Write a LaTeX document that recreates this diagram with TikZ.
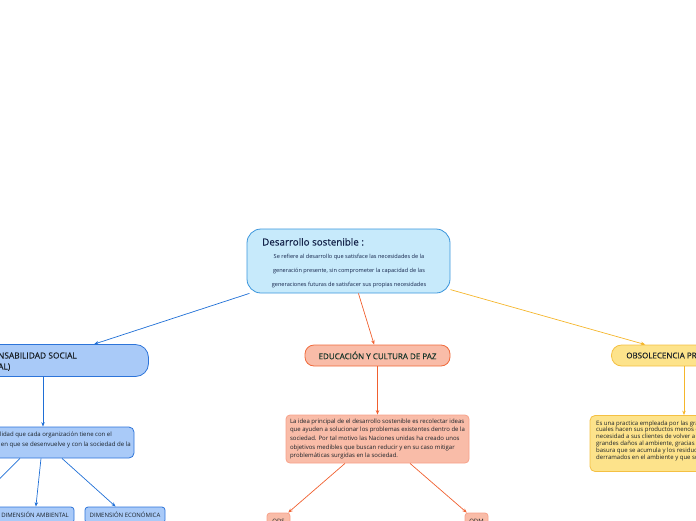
\documentclass[tikz,border=0pt]{standalone}
\usepackage{fontspec}
\setmainfont{Open Sans}
\newfontfamily\semib{Open Sans}[FakeBold=0.5]
\usetikzlibrary{arrows.meta,calc}
\definecolor{cfill}{HTML}{C7EAFB}
\definecolor{cdraw}{HTML}{3A95DC}
\definecolor{bfill}{HTML}{A9CAF8}
\definecolor{bdraw}{HTML}{2D74D9}
\definecolor{bline}{HTML}{1F6FD6}
\definecolor{ofill}{HTML}{F9BCA8}
\definecolor{odraw}{HTML}{F06A3B}
\definecolor{odraw2}{HTML}{F7A28A}
\definecolor{oline}{HTML}{F0602F}
\definecolor{yfill}{HTML}{FDE38B}
\definecolor{ydraw}{HTML}{F4C043}
\definecolor{yline}{HTML}{F5B62B}
\definecolor{titlec}{HTML}{14234A}
\definecolor{txt}{HTML}{1A2128}
\definecolor{gtxt}{HTML}{17352A}
\begin{document}
\begin{tikzpicture}[x=1pt,y=-1pt,
  nbox/.style={draw, line width=0.8pt, inner sep=0pt, text=txt},
  tip/.style={-{Stealth[length=4.5pt,width=3.5pt]}, line width=0.7pt},
  small/.style={font=\fontsize{6.0}{10}\selectfont},
  head/.style={font=\semib\fontsize{8.0}{13}\selectfont},
]
\useasboundingbox (0,0) rectangle (696,520);
\clip (0,0) rectangle (696,520);

% central
\node[nbox, fill=cfill, draw=cdraw, rounded corners=14pt, minimum width=203pt, minimum height=64pt] (central) at (348.5,261) {};
\node[anchor=base west, inner sep=0pt, font=\semib\fontsize{9.8}{10}\selectfont, text=titlec] (ctitle) at (262,245.5) {Desarrollo sostenible :};
\node[anchor=base, inner sep=0pt, align=center, font=\fontsize{5.6}{14}\selectfont, text=titlec] (cbody) at (349,286) {Se refiere al desarrollo que satisface las necesidades de la\\generación presente, sin comprometer la capacidad de las\\generaciones futuras de satisfacer sus propias necesidades};

% left branch
\node[nbox, fill=bfill, draw=bdraw, rounded corners=13pt, minimum width=209pt, minimum height=32pt] (resp) at (44,360.5) {};
\node[anchor=base east, inner sep=0pt, font=\semib\fontsize{8.4}{13}\selectfont, text=txt] (resptitle1) at (77,358.5) {RESPONSABILIDAD SOCIAL};
\node[anchor=base east, inner sep=0pt, font=\semib\fontsize{8.4}{13}\selectfont, text=txt] (resptitle2) at (10.5,369.5) {(EMPRESARIAL)};
\node[nbox, fill=bfill, draw=bdraw, rounded corners=5pt, minimum width=254pt, minimum height=31pt] (respdesc) at (7,442.5) {};
\node[anchor=base east, inner sep=0pt, small, text=txt] (rd1) at (112,436) {Es la responsabilidad que cada organización tiene con el};
\node[anchor=base east, inner sep=0pt, font=\fontsize{6.1}{10}\selectfont, text=txt] (rd2) at (131,446.5) {medio ambiente en que se desenvuelve y con la sociedad de la};
\node[nbox, fill=bfill, draw=bdraw, rounded corners=3pt, minimum width=78pt, minimum height=16pt, small] (amb) at (35,515) {DIMENSIÓN AMBIENTAL};
\node[nbox, fill=bfill, draw=bdraw, rounded corners=3pt, minimum width=80pt, minimum height=16pt, small] (eco) at (125,515) {DIMENSIÓN ECONÓMICA};
\coordinate (offleft) at (-40,518);

\draw[tip, bline] (central) -- (resp);
\draw[tip, bline] (resp.south -| 43,0) -- (respdesc.north -| 43,0);
\draw[tip, bline] ([xshift=13pt]respdesc.south) -- (offleft);
\draw[tip, bline] ([xshift=34pt]respdesc.south) -- (amb);
\draw[tip, bline] ([xshift=55pt]respdesc.south) -- (eco);

% middle branch
\node[nbox, fill=ofill, draw=odraw, rounded corners=9pt, minimum width=145pt, minimum height=21pt, head, text=gtxt] (edu) at (377.5,355.5) {EDUCACIÓN Y CULTURA DE PAZ};
\node[nbox, fill=ofill, draw=odraw2, rounded corners=4pt, minimum width=183pt, minimum height=48pt, align=left, font=\fontsize{6.0}{8.6}\selectfont, text=txt] (edudesc) at (377.5,439) {La idea principal de el desarrollo sostenible es recolectar ideas\\que ayuden a solucionar los problemas existentes dentro de la\\sociedad. Por tal motivo las Naciones unidas ha creado unos\\objetivos medibles que buscan reducir y en su caso mitigar\\problemáticas surgidas en la sociedad.};
\node[nbox, fill=ofill, draw=odraw2, rounded corners=3pt, minimum width=23pt, minimum height=16pt, small] (ods) at (278.5,521) {ODS};
\node[nbox, fill=ofill, draw=odraw2, rounded corners=3pt, minimum width=23pt, minimum height=16pt, small] (odm) at (476.5,521) {ODM};

\draw[tip, oline] (central) -- (edu);
\draw[tip, oline] (edu) -- (edudesc);
\draw[tip, oline] ([xshift=-32.5pt]edudesc.south) -- (ods);
\draw[tip, oline] ([xshift=32.5pt]edudesc.south) -- (odm);

% right branch
\node[nbox, fill=yfill, draw=ydraw, rounded corners=10pt, minimum width=145pt, minimum height=21pt, head, text=txt] (obs) at (684,355.5) {OBSOLECENCIA PROGRAMADA};
\node[nbox, fill=yfill, draw=ydraw, rounded corners=5pt, minimum width=188pt, minimum height=56pt] (obsdesc) at (684,443.5) {};
\node[anchor=base west, inner sep=0pt, align=left, font=\fontsize{6.0}{6.9}\selectfont, text=txt] (obstext) at (596,459.5) {Es una practica empleada por las grandes empresas, las\\cuales hacen sus productos menos durables, creando la\\necesidad a sus clientes de volver a comprar, y causando\\grandes daños al ambiente, gracias a la cantidad de\\basura que se acumula y los residuos tóxicos\\derramados en el ambiente y que son difíciles de tratar.};

\draw[tip, yline] (central) -- (obs);
\draw[tip, yline] (obs) -- (obsdesc);
\end{tikzpicture}
\end{document}
